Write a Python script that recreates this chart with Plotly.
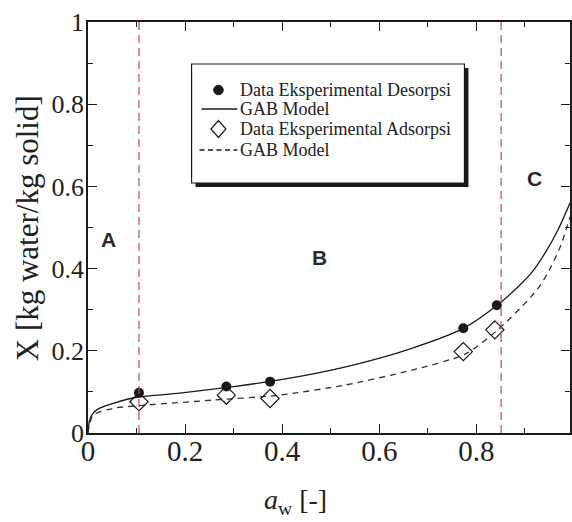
import plotly.graph_objects as go

# ---- data ----
aw_des = [0.105, 0.285, 0.375, 0.773, 0.842]
X_des = [0.098, 0.113, 0.125, 0.255, 0.311]
aw_ads = [0.105, 0.285, 0.375, 0.773, 0.838]
X_ads = [0.076, 0.092, 0.084, 0.198, 0.251]

aw_gab_des = [0, 0.003, 0.01, 0.02, 0.052, 0.1, 0.189, 0.3, 0.394, 0.531, 0.667, 0.774, 0.842, 0.886, 0.915, 0.941, 0.968, 0.993]
X_gab_des = [0, 0.03, 0.047, 0.058, 0.072, 0.087, 0.097, 0.113, 0.129, 0.161, 0.206, 0.255, 0.31, 0.356, 0.392, 0.437, 0.494, 0.56]
aw_gab_ads = [0, 0.003, 0.011, 0.052, 0.12, 0.257, 0.394, 0.531, 0.667, 0.777, 0.843, 0.907, 0.932, 0.954, 0.975, 0.993]
X_gab_ads = [0, 0.02, 0.044, 0.06, 0.068, 0.08, 0.092, 0.117, 0.153, 0.192, 0.25, 0.324, 0.36, 0.405, 0.46, 0.526]

region_bounds = [0.105, 0.851]
region_labels = ["A", "B", "C"]

legend_names = ["Data Eksperimental Desorpsi", "GAB Model", "Data Eksperimental Adsorpsi", "GAB Model"]

x_ticks = [0, 0.2, 0.4, 0.6, 0.8]
y_ticks = [0, 0.2, 0.4, 0.6, 0.8, 1]

# ---- layout geometry ----
W, H = 572, 522
ML, MR, MT, MB = 88, 0, 22, 89
PW, PH = W - ML - MR, H - MT - MB

def px(x):
    return (x - ML) / PW

def py(y):
    return (H - MB - y) / PH

SERIF = "Liberation Serif, Times New Roman, serif"
SANS = "Liberation Sans, Arial, sans-serif"
INK = "#1a1a1a"

fig = go.Figure()

fig.add_trace(go.Scatter(x=aw_gab_des, y=X_gab_des, mode="lines", name=legend_names[1],
                         line=dict(color=INK, width=1.3, shape="spline", smoothing=0.7),
                         showlegend=False))
fig.add_trace(go.Scatter(x=aw_gab_ads, y=X_gab_ads, mode="lines", name=legend_names[3],
                         line=dict(color="#333333", width=1.3, dash="6px,5px", shape="spline", smoothing=0.7),
                         showlegend=False))
fig.add_trace(go.Scatter(x=aw_des, y=X_des, mode="markers", name=legend_names[0],
                         marker=dict(symbol="circle", size=10, color=INK),
                         showlegend=False))
fig.add_trace(go.Scatter(x=aw_ads, y=X_ads, mode="markers", name=legend_names[2],
                         marker=dict(symbol="diamond-open", size=14, color=INK, line=dict(width=1.2, color=INK)),
                         showlegend=False))

# region boundary lines
for b in region_bounds:
    fig.add_shape(type="line", xref="x", yref="paper", x0=b, x1=b, y0=0, y1=1,
                  line=dict(color="#c0485e", width=1.2, dash="8px,5px"), layer="above")

# region labels
label_pos = [(0.042, 0.472), (0.476, 0.426), (0.919, 0.62)]
for lab, (lx, ly) in zip(region_labels, label_pos):
    fig.add_annotation(x=lx, y=ly, xref="x", yref="y", text="<b>" + lab + "</b>", showarrow=False,
                       font=dict(family=SANS, size=21, color="#2a2a2a"), xanchor="center", yanchor="middle")

# ---- manual legend box ----
bx0, by0, bx1, by1 = 192, 64, 466, 183
sh = 4
fig.add_shape(type="rect", xref="paper", yref="paper",
              x0=px(bx0 + sh), x1=px(bx1 + sh), y0=py(by1 + sh), y1=py(by0 + sh),
              fillcolor=INK, line=dict(width=0), layer="above")
fig.add_shape(type="rect", xref="paper", yref="paper",
              x0=px(bx0), x1=px(bx1), y0=py(by1), y1=py(by0),
              fillcolor="white", line=dict(color=INK, width=1.2), layer="above")

rows = [90, 109, 129, 150]
sym_x = 219
# filled circle
r = 4.8
fig.add_shape(type="circle", xref="paper", yref="paper",
              x0=px(sym_x - r), x1=px(sym_x + r), y0=py(rows[0] + r), y1=py(rows[0] - r),
              fillcolor=INK, line=dict(color=INK, width=1), layer="above")
# solid line
fig.add_shape(type="line", xref="paper", yref="paper", x0=px(202), x1=px(238), y0=py(rows[1]), y1=py(rows[1]),
              line=dict(color=INK, width=1.3), layer="above")
# open diamond
dw, dh = 7.5, 8.5
cy = rows[2]
path = "M {},{} L {},{} L {},{} L {},{} Z".format(
    px(sym_x), py(cy - dh), px(sym_x + dw), py(cy), px(sym_x), py(cy + dh), px(sym_x - dw), py(cy))
fig.add_shape(type="path", xref="paper", yref="paper", path=path,
              line=dict(color=INK, width=1.2), fillcolor="rgba(0,0,0,0)", layer="above")
# dashed line
fig.add_shape(type="line", xref="paper", yref="paper", x0=px(200), x1=px(238), y0=py(rows[3]), y1=py(rows[3]),
              line=dict(color=INK, width=1.3, dash="5px,3.5px"), layer="above")

for name, ry in zip(legend_names, rows):
    fig.add_annotation(x=px(239), y=py(ry), xref="paper", yref="paper", text=name, showarrow=False,
                       xanchor="left", yanchor="middle",
                       font=dict(family=SERIF, size=18, color="#222222"))

# axis titles
fig.add_annotation(x=px(27), y=py(228), xref="paper", yref="paper", text="X [kg water/kg solid]",
                   showarrow=False, textangle=-90, xanchor="center", yanchor="middle",
                   font=dict(family=SERIF, size=31, color="#222222"))
fig.add_annotation(x=px(296), y=py(502), xref="paper", yref="paper",
                   text="<i>a</i><sub>w</sub> [-]", showarrow=False, xanchor="center", yanchor="middle",
                   font=dict(family=SERIF, size=28, color="#222222"))

axis_common = dict(showline=True, linecolor=INK, linewidth=1.5, mirror="ticks",
                   ticks="inside", ticklen=9, tickwidth=1.3, tickcolor=INK,
                   showgrid=False, zeroline=False,
                   minor=dict(ticks="inside", ticklen=5, tickwidth=1.2, tickcolor=INK, dtick=0.1, showgrid=False))

fig.update_xaxes(range=[0, PW / 487.5], tickvals=x_ticks, ticktext=[f"{v:g}" for v in x_ticks],
                 tickfont=dict(family=SERIF, size=29, color="#222222"), ticklabelstandoff=-9, **axis_common)
fig.update_yaxes(range=[0, 1], tickvals=y_ticks, ticktext=[f"{v:g}" for v in y_ticks],
                 tickfont=dict(family=SERIF, size=26, color="#222222"), ticklabelstandoff=-3, **axis_common)

fig.update_layout(width=W, height=H, margin=dict(l=ML, r=MR, t=MT, b=MB),
                  paper_bgcolor="white", plot_bgcolor="white", showlegend=False)

fig.write_html("out.html", config={"displayModeBar": False},
               post_script="document.body.style.margin='0';document.body.style.overflow='hidden';")
